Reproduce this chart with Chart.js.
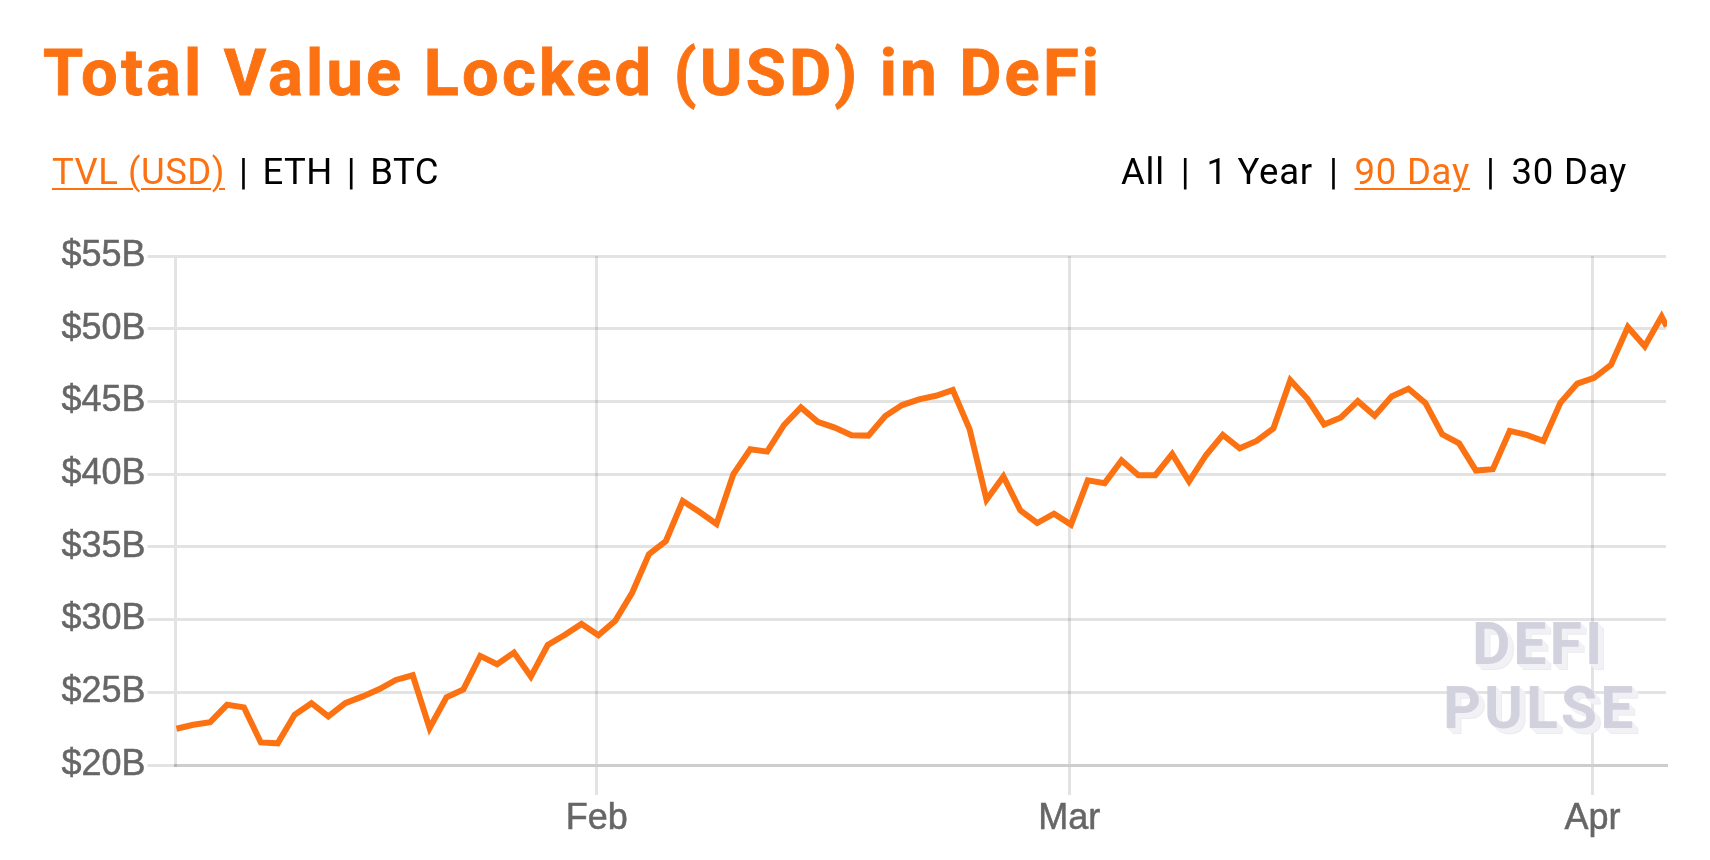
<!DOCTYPE html>
<html>
<head>
<meta charset="utf-8">
<title>Total Value Locked (USD) in DeFi</title>
<script src="https://cdn.jsdelivr.net/npm/chart.js@4"></script>
<style>
    html, body { margin: 0; padding: 0; background: #fff; width: 1710px; height: 860px; overflow: hidden; }
    #chartBox { position: absolute; left: 0; top: 0; width: 1710px; height: 860px; }
    h1 { position: absolute; left: 43px; top: 35px; margin: 0; font: 700 65px Roboto, sans-serif; letter-spacing: 3.2px; -webkit-text-stroke: 0.8px #fc7212; color: #fc7212; white-space: nowrap; }
    .nav { position: absolute; top: 150px; font: 400 36.5px Roboto, sans-serif; letter-spacing: 0.5px; color: #000; white-space: nowrap; }
    .nav a { color: #000; text-decoration: none; }
    .nav a.on { color: #fc7212; text-decoration: underline; text-underline-offset: 4px; text-decoration-thickness: 2px; }
    .nav span { margin: 0 14px; }
    .nav.right { letter-spacing: 0.75px; }
    .nav.right span { margin: 0 16px; }
    .mark { position: absolute; font: 700 59px Roboto, sans-serif; letter-spacing: 3px; color: rgba(205, 203, 217, 0.85); line-height: 42px; text-shadow: 1px 1px 0 #f2f1f5, 2px 2px 0 #f2f1f5, 3px 3px 0 #f2f1f5, 4px 4px 0 #f2f1f5, 5px 5px 0 #f2f1f5, 6px 6px 0 #ecebf0; }
</style>
</head>
<body>
<div id="chartBox"><canvas id="tvlChart"></canvas></div>
<h1>Total Value Locked (USD) in DeFi</h1>
<div class="nav" style="left:52px"><a class="on">TVL (USD)</a><span>|</span><a>ETH</a><span>|</span><a>BTC</a></div>
<div class="nav right" style="right:83px"><a>All</a><span>|</span><a>1 Year</a><span>|</span><a class="on">90 Day</a><span>|</span><a>30 Day</a></div>
<div class="mark" style="left:1472px;top:623px">DEFI</div>
<div class="mark" style="left:1443px;top:687px">PULSE</div>
<script>
// day of year for each reading, last one is the live point at the right edge
const days = [7.1, 8.1, 9.1, 10.1, 11.1, 12.1, 13.1, 14.1, 15.1, 16.1, 17.1, 18.1, 19.1, 20.1, 21.1, 22.1, 23.1, 24.1,
    25.1, 26.1, 27.1, 28.1, 29.1, 30.1, 31.1, 32.1, 33.1, 34.1, 35.1, 36.1, 37.1, 38.1, 39.1, 40.1, 41.1, 42.1,
    43.1, 44.1, 45.1, 46.1, 47.1, 48.1, 49.1, 50.1, 51.1, 52.1, 53.1, 54.1, 55.1, 56.1, 57.1, 58.1, 59.1, 60.1,
    61.1, 62.1, 63.1, 64.1, 65.1, 66.1, 67.1, 68.1, 69.1, 70.1, 71.1, 72.1, 73.1, 74.1, 75.1, 76.1, 77.1, 78.1,
    79.1, 80.1, 81.1, 82.1, 83.1, 84.1, 85.1, 86.1, 87.1, 88.1, 89.1, 90.1, 91.1, 92.1, 93.1, 94.1, 95.1, 95.4];
const tvl = [22.49, 22.77, 22.95, 24.14, 23.96, 21.55, 21.49, 23.45, 24.25, 23.34, 24.25, 24.7, 25.2, 25.85, 26.17, 22.54, 24.66, 25.2,
    27.5, 26.93, 27.73, 26.08, 28.25, 28.94, 29.7, 28.92, 29.92, 31.84, 34.5, 35.4, 38.15, 37.4, 36.57, 40, 41.71, 41.55,
    43.38, 44.59, 43.6, 43.2, 42.67, 42.65, 44, 44.75, 45.14, 45.39, 45.78, 43.08, 38.24, 39.84, 37.51, 36.64, 37.28, 36.53,
    39.57, 39.38, 40.94, 39.93, 39.93, 41.39, 39.5, 41.3, 42.7, 41.78, 42.28, 43.15, 46.46, 45.2, 43.42, 43.9, 45.02, 44.02,
    45.34, 45.87, 44.9, 42.74, 42.12, 40.25, 40.34, 42.97, 42.7, 42.28, 44.9, 46.23, 46.62, 47.51, 50.11, 48.79, 50.84, 50.16];
const tickDays = [32, 60, 91];
const tickLabels = ['Feb', 'Mar', 'Apr'];

const tickFont = { family: '"Liberation Sans", Arial, sans-serif', size: 36 };

new Chart(document.getElementById('tvlChart'), {
    type: 'line',
    data: {
        datasets: [{
            data: days.map((d, i) => ({ x: d, y: tvl[i] })),
            borderColor: '#fc7212',
            borderWidth: 6,
            pointRadius: 0,
            tension: 0,
            borderJoinStyle: 'miter',
            clip: 1
        }]
    },
    options: {
        responsive: true,
        maintainAspectRatio: false,
        animation: false,
        parsing: false,
        layout: { padding: { top: 256, right: 44, bottom: 0, left: 0 } },
        plugins: { legend: { display: false }, tooltip: { enabled: false } },
        scales: {
            x: {
                type: 'linear',
                min: 7.05,
                max: 95.36,
                afterBuildTicks: (axis) => { axis.ticks = tickDays.map(v => ({ value: v })); },
                afterFit: (axis) => { axis.height = 95; },
                ticks: {
                    font: tickFont,
                    color: '#666',
                    textStrokeColor: '#666',
                    textStrokeWidth: 0.5,
                    padding: 2,
                    maxRotation: 0,
                    autoSkip: false,
                    callback: (v) => tickLabels[tickDays.indexOf(v)]
                },
                grid: { color: 'rgba(0,0,0,0.11)', lineWidth: 3, tickLength: 30 },
                border: { color: '#cdcdcd', width: 3 }
            },
            y: {
                min: 20,
                max: 55,
                afterFit: (axis) => { axis.width = 175.6; },
                ticks: {
                    stepSize: 5,
                    font: tickFont,
                    color: '#666',
                    textStrokeColor: '#666',
                    textStrokeWidth: 0.5,
                    padding: 2,
                    callback: (v) => `$${v}B`
                },
                grid: { color: 'rgba(0,0,0,0.11)', lineWidth: 3, tickLength: 28 },
                border: { color: 'rgba(0,0,0,0.11)', width: 3 }
            }
        }
    }
});
</script>
</body>
</html>
